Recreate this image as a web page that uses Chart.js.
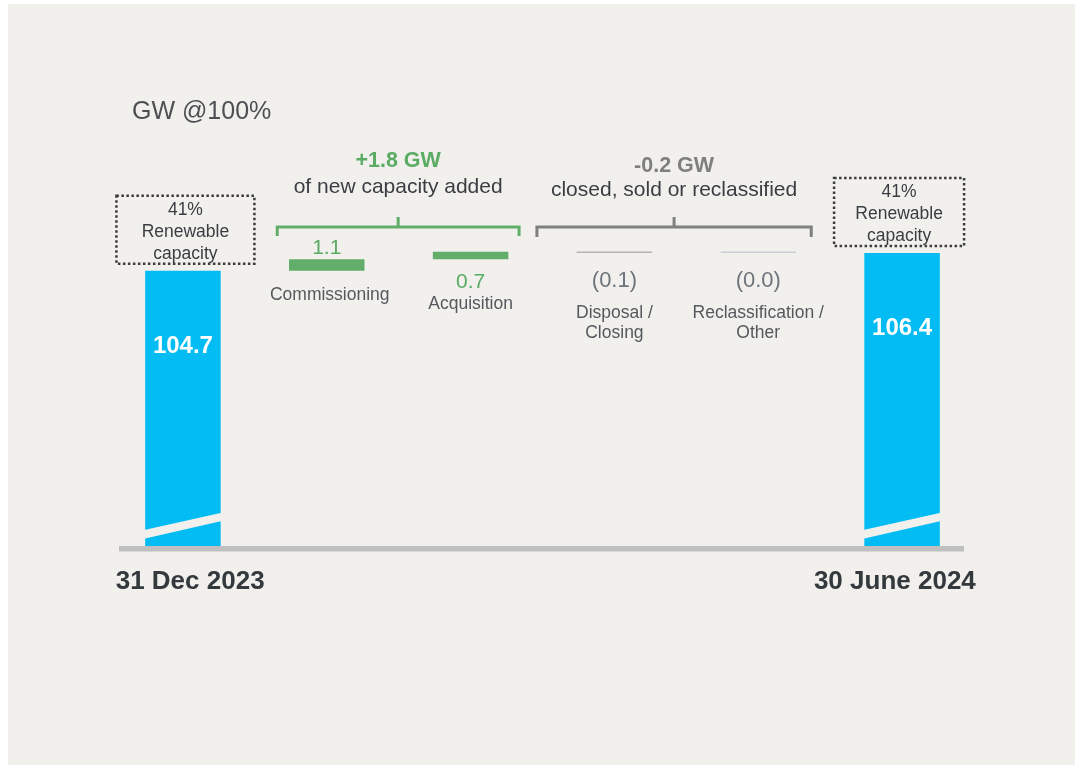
<!DOCTYPE html>
<html>
<head>
<meta charset="utf-8">
<script src="https://cdn.jsdelivr.net/npm/chart.js@4.4.1/dist/chart.umd.min.js"></script>
<style>
  html, body { margin: 0; padding: 0; background: #ffffff; }
  #panel { position: absolute; left: 8px; top: 4px; width: 1067px; height: 761px; background: #f1f0ed; }
  #wrap { position: absolute; left: 0; top: 0; width: 1079px; height: 767px; }
</style>
</head>
<body>
<div id="panel"></div>
<div id="wrap"><canvas id="c" width="1079" height="767"></canvas></div>
<script>
// ---- data ----
const categories = ['31 Dec 2023', 'Commissioning', 'Acquisition', 'Disposal / Closing', 'Reclassification / Other', '30 June 2024'];
const tickLabels = ['31 Dec 2023', '', '', '', '', '30 June 2024'];
const startValue = 104.7;
const changes = [1.1, 0.7, -0.1, 0.0];
const endValue = 106.4;
const changeLabels = ['1.1', '0.7', '(0.1)', '(0.0)'];
const changeCaptions = [['Commissioning'], ['Acquisition'], ['Disposal /', 'Closing'], ['Reclassification /', 'Other']];
const groupTotals = ['+1.8 GW', '-0.2 GW'];
const groupTexts = ['of new capacity added', 'closed, sold or reclassified'];
const boxTexts = ['41%', 'Renewable', 'capacity'];
const unitLabel = 'GW @100%';
const axisMin = 78.7;
const axisMax = 116.5;

// ---- build waterfall ranges ----
const ranges = [[axisMin, startValue]];
let run = startValue;
changes.forEach(c => { const next = Math.round((run + c) * 100) / 100; ranges.push([run, next]); run = next; });
ranges.push([axisMin, endValue]);

const FONT = "'Liberation Sans', Arial, sans-serif";
const BLUE = '#03bcf3', GREEN = '#62ad6a', GREEN_T = '#5aab63', GRAY = '#808080', PANEL = '#f1f0ed';

const overlay = {
  id: 'overlay',
  afterDatasetsDraw(chart) {
    const ctx = chart.ctx;
    const bars = chart.getDatasetMeta(0).data;
    const ca = chart.chartArea;
    const last = bars.length - 1;
    ctx.save();

    // axis baseline
    ctx.fillStyle = '#bfbfbf';
    ctx.fillRect(ca.left + 8, ca.bottom, ca.right - ca.left - 18, 5.5);

    // break stripes + totals + boxes
    const boxW = [138, 130], boxDx = [2.5, -3];
    [0, last].forEach((i, k) => {
      const b = bars[i];
      const L = b.x - b.width / 2, R = b.x + b.width / 2, base = b.base;
      ctx.fillStyle = PANEL;
      ctx.beginPath();
      ctx.moveTo(L - 1, base - 16);
      ctx.lineTo(R + 1, base - 33.3);
      ctx.lineTo(R + 1, base - 25);
      ctx.lineTo(L - 1, base - 7.3);
      ctx.closePath();
      ctx.fill();

      ctx.fillStyle = '#ffffff';
      ctx.font = 'bold 24px ' + FONT;
      ctx.textAlign = 'center';
      ctx.textBaseline = 'alphabetic';
      ctx.fillText(String(ranges[i][1]), b.x, b.y + 82);

      const cx = b.x + boxDx[k], w = boxW[k];
      const bottom = b.y - 7, top = bottom - 68;
      ctx.strokeStyle = '#3c3c3c';
      ctx.lineWidth = 2.5;
      ctx.setLineDash([2.5, 2.5]);
      ctx.strokeRect(cx - w / 2, top, w, bottom - top);
      ctx.setLineDash([]);
      ctx.fillStyle = '#3a3e42';
      ctx.font = '17.5px ' + FONT;
      ctx.fillText(boxTexts[0], cx, top + 19.5);
      ctx.fillText(boxTexts[1], cx, top + 41.5);
      ctx.fillText(boxTexts[2], cx, top + 63);
    });

    // change labels
    ctx.textAlign = 'center';
    ctx.textBaseline = 'alphabetic';
    for (let j = 0; j < changes.length; j++) {
      const b = bars[j + 1];
      const hi = Math.min(b.y, b.base), lo = Math.max(b.y, b.base);
      let vy, cy;
      if (j === 0) { vy = hi - 5; cy = lo + 29; }
      else if (j === 1) { vy = lo + 29; cy = lo + 50; }
      else { vy = hi + 36; cy = hi + 67; }
      ctx.font = (j < 2 ? '21px ' : '22px ') + FONT;
      ctx.fillStyle = j < 2 ? GREEN_T : '#6d747a';
      ctx.fillText(changeLabels[j], b.x, vy);
      ctx.font = '17.5px ' + FONT;
      ctx.fillStyle = '#55595d';
      changeCaptions[j].forEach((t, n) => ctx.fillText(t, b.x + (j === 0 ? 3 : 0), cy + n * 20));
    }

    // brackets + group headers
    const groups = [
      { a: bars[1], b: bars[2], dl: -49.5, dr: 48.5, color: GREEN, tcolor: GREEN_T, endDown: 9, tOff: -60, sOff: -34 },
      { a: bars[3], b: bars[4], dl: -77.5, dr: 53, color: GRAY, tcolor: '#7f7f7f', endDown: 10, tOff: -55, sOff: -31 }
    ];
    const by = 227;
    groups.forEach((g, k) => {
      const x1 = g.a.x + g.dl, x2 = g.b.x + g.dr, mid = (x1 + x2) / 2;
      ctx.strokeStyle = g.color;
      ctx.lineWidth = 3;
      ctx.lineCap = 'butt';
      ctx.beginPath();
      ctx.moveTo(x1, by + g.endDown);
      ctx.lineTo(x1, by);
      ctx.lineTo(x2, by);
      ctx.lineTo(x2, by + g.endDown);
      ctx.moveTo(mid, by);
      ctx.lineTo(mid, by - 10);
      ctx.stroke();
      ctx.fillStyle = g.tcolor;
      ctx.font = 'bold 21.5px ' + FONT;
      ctx.fillText(groupTotals[k], mid, by + g.tOff);
      ctx.fillStyle = '#3a3e42';
      ctx.font = '21px ' + FONT;
      ctx.fillText(groupTexts[k], mid, by + g.sOff);
    });

    // unit label
    ctx.textAlign = 'left';
    ctx.fillStyle = '#4d4f52';
    ctx.font = '25px ' + FONT;
    ctx.fillText(unitLabel, 132, 119);

    ctx.restore();
  }
};

new Chart(document.getElementById('c'), {
  type: 'bar',
  data: {
    labels: tickLabels,
    datasets: [{
      data: ranges,
      backgroundColor: [BLUE, GREEN, GREEN, '#b3b3b3', '#c9ced3', BLUE],
      borderWidth: 0,
      barPercentage: 0.525,
      categoryPercentage: 1,
      minBarLength: 1.5
    }]
  },
  options: {
    responsive: false,
    animation: false,
    layout: { padding: { left: 111, right: 105, top: 146, bottom: 0 } },
    plugins: { legend: { display: false }, tooltip: { enabled: false } },
    scales: {
      x: {
        grid: { display: false, drawTicks: false },
        border: { display: false },
        ticks: {
          autoSkip: false, maxRotation: 0, minRotation: 0, padding: 20,
          color: '#34393d',
          font: { family: FONT, size: 26, weight: 'bold' },
          callback(value, index) {
            const t = tickLabels[index];
            if (!t) return '';
            if (index === 0) return '\u00a0\u00a0' + t;
            return t + '\u00a0\u00a0';
          }
        },
        afterFit(s) { s.height = 767 - 546; }
      },
      y: { display: false, min: axisMin, max: axisMax }
    }
  },
  plugins: [overlay]
});
</script>
</body>
</html>
